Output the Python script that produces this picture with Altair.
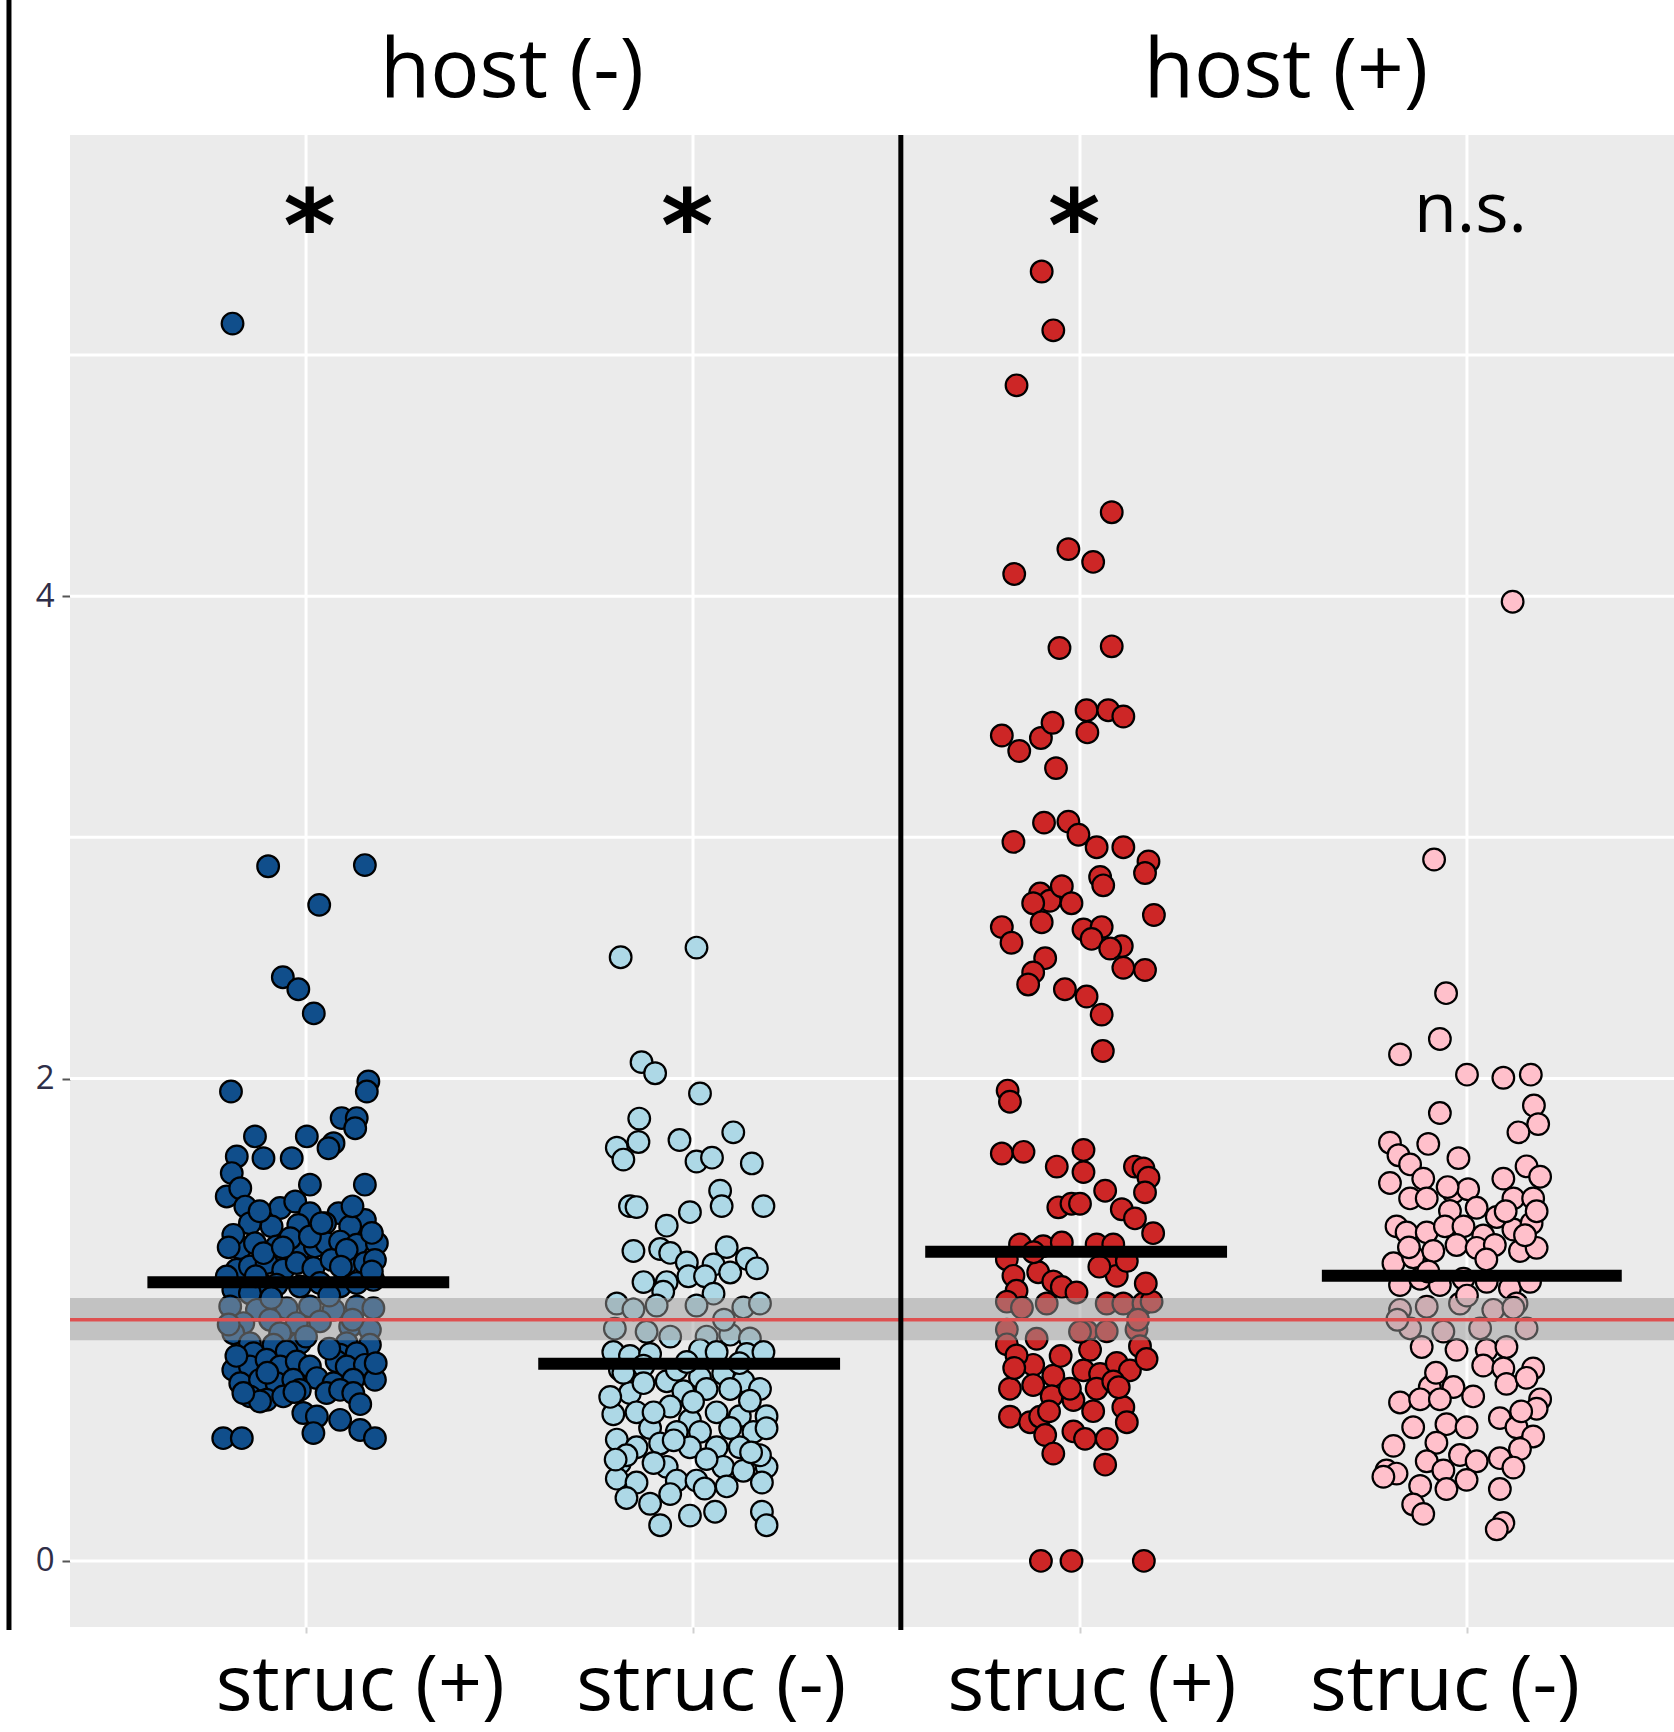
import altair as alt
import pandas as pd

# ---------------- data ----------------
categories = ["struc (+)", "struc (-)", "struc (+)", "struc (-)"]
cat_pos = [1, 2, 3, 4]
hosts = ["host (-)", "host (+)"]
host_pos = [1.532, 3.532]
label_pos = [1.14, 2.047, 3.031, 3.943]
groups = ["g1", "g2", "g3", "g4"]
group_colors = ["#104E8B", "#ADD8E6", "#CD2626", "#FFC0CB"]

# group 1: host(-) struc(+)  (jitter offset, value)
g1_off = [-0.19, -0.098, 0.152, 0.034, -0.06, -0.02, 0.02,
          -0.194, 0.161, 0.157, 0.092, 0.131, 0.127, -0.132, 0.002, 0.071, 0.058, -0.179, -0.11, -0.037,
          -0.192, 0.01, 0.152, -0.205, -0.17, -0.157, -0.067, -0.028, 0.01, 0.084, 0.152, -0.145, -0.089,
          -0.02, 0.049, 0.114, -0.17, -0.132, -0.076, -0.05, -0.016, 0.023, 0.053, 0.088, 0.131, 0.183,
          -0.179, -0.205, -0.145, -0.102, -0.059, -0.024, 0.019, 0.066, 0.105, 0.152, 0.178, -0.119,
          -0.076, -0.016, 0.036, 0.088, 0.131, 0.174, -0.188, -0.145, -0.196, -0.127, -0.05, 0.01, 0.071,
          0.131, 0.174, -0.162, -0.093, -0.024, 0.036, 0.114, 0.165, -0.188, -0.067, -0.145, -0.084,
          -0.016, 0.105, 0.165, -0.136, -0.05, 0.088, 0.131, -0.188, -0.145, -0.102, -0.067, -0.024, 0.01,
          0.079, 0.105, 0.152, -0.17, -0.119, -0.076, -0.033, 0.028, 0.071, 0.122, 0.178, -0.145, -0.102,
          -0.059, -0.016, 0.053, 0.088, 0.122, -0.007, 0.028, 0.088, 0.14, 0.019, 0.178, -0.214, -0.166,
          -0.119, -0.162, -0.041, 0.01, -0.188, 0.105, -0.11,
          -0.2, 0.17, -0.13, 0.06, -0.09, 0.12, -0.2, 0.0, 0.06, -0.1, 0.18, -0.03, 0.14, -0.18, 0.09,
          -0.06, 0.04, -0.12, 0.12, 0.17]
g1_val = [5.13, 2.88, 2.885, 2.72, 2.42, 2.37, 2.27,
          1.946, 1.988, 1.946, 1.836, 1.836, 1.794, 1.76, 1.76, 1.732, 1.711, 1.677, 1.67, 1.67,
          1.608, 1.56, 1.56, 1.511, 1.545, 1.469, 1.463, 1.49, 1.442, 1.442, 1.414, 1.4, 1.387,
          1.393, 1.4, 1.387, 1.297, 1.317, 1.304, 1.262, 1.29, 1.304, 1.317, 1.324, 1.311, 1.317,
          1.207, 1.179, 1.221, 1.235, 1.207, 1.235, 1.214, 1.248, 1.235, 1.235, 1.248, 1.152,
          1.145, 1.138, 1.152, 1.138, 1.152, 1.165, 1.124, 1.11, 1.055, 1.041, 1.048, 1.055, 1.041,
          1.055, 1.048, 0.986, 1.0, 0.986, 0.993, 0.972, 0.958, 0.944, 0.944, 0.903, 0.896,
          0.903, 0.903, 0.896, 0.861, 0.868, 0.855, 0.861, 0.792, 0.806, 0.834, 0.806, 0.827, 0.806,
          0.827, 0.806, 0.813, 0.737, 0.751, 0.737, 0.751, 0.758, 0.737, 0.751, 0.751, 0.682, 0.668,
          0.682, 0.709, 0.696, 0.709, 0.696, 0.613, 0.599, 0.585, 0.543, 0.53, 0.509, 0.509, 0.509,
          0.661, 0.696, 1.338, 1.345, 1.352, 1.29, 1.276,
          1.3, 1.2, 1.18, 1.1, 1.09, 1.0, 0.98, 0.93, 0.88, 0.78, 0.82, 0.7, 0.65, 0.85, 1.22,
          1.3, 1.4, 1.45, 1.47, 1.36]

# group 2: host(-) struc(-)
g2_off = [-0.187, 0.009, -0.133, -0.098, 0.018, -0.139, -0.197, -0.141, -0.18, -0.035, 0.104, 0.009,
          0.049, 0.152, 0.07, 0.074, -0.163, -0.146, -0.008, 0.182, -0.068, -0.154, -0.085, -0.059,
          -0.016, 0.087, 0.139, 0.165, 0.053, 0.096, -0.128, -0.068, -0.012, 0.031, -0.077, 0.053,
          -0.197, -0.154, -0.094, 0.009, 0.13, 0.173, -0.202, -0.059, 0.035, 0.096, 0.147, -0.206,
          -0.163, -0.111, 0.018, 0.061, 0.139, 0.182, -0.189, -0.128, -0.068, 0.018, 0.078, 0.13,
          0.173, -0.163, -0.128, -0.025, 0.035, 0.096, -0.206, -0.146, -0.059, -0.008, 0.061, 0.121,
          0.19, -0.111, -0.042, 0.018, 0.156, -0.197, -0.146, -0.085, -0.008, 0.061, 0.121, -0.189,
          -0.068, 0.078, 0.19, -0.197, -0.146, -0.042, 0.009, 0.087, 0.178, -0.172, -0.111, -0.008,
          0.057, 0.178, -0.085, 0.19, -0.102, 0.096, 0.147, -0.214, -0.042, -0.016, -0.102, 0.13,
          0.035, -0.059, -0.172, 0.173,
          -0.18, 0.0, 0.12, -0.05, 0.15, -0.12, 0.08, 0.19, -0.2, 0.03]
g2_val = [2.503, 2.543, 2.068, 2.022, 1.938, 1.834, 1.713, 1.737, 1.664, 1.745, 1.777, 1.656,
          1.672, 1.648, 1.535, 1.471, 1.471, 1.467, 1.446, 1.471, 1.39, 1.285, 1.293, 1.277,
          1.237, 1.301, 1.253, 1.213, 1.229, 1.196, 1.156, 1.156, 1.18, 1.18, 1.116, 1.108,
          1.067, 1.043, 1.059, 1.059, 1.051, 1.067, 0.963, 0.93, 0.93, 0.938, 0.922, 0.866,
          0.85, 0.858, 0.874, 0.866, 0.858, 0.866, 0.793, 0.809, 0.745, 0.761, 0.777, 0.745,
          0.713, 0.696, 0.737, 0.704, 0.713, 0.713, 0.608, 0.616, 0.64, 0.583, 0.616, 0.6,
          0.6, 0.551, 0.535, 0.535, 0.535, 0.503, 0.471, 0.487, 0.471, 0.471, 0.471, 0.406,
          0.39, 0.39, 0.39, 0.341, 0.325, 0.333, 0.333, 0.309, 0.325, 0.261, 0.237, 0.188,
          0.204, 0.204, 0.148, 0.148, 0.616, 0.551, 0.664, 0.68, 0.793, 0.825, 0.406, 0.374,
          0.422, 0.277, 0.438, 0.438,
          0.78, 0.66, 0.82, 0.5, 0.45, 0.95, 1.0, 0.55, 0.42, 0.3]

# group 3: host(+) struc(+)
g3_off = [-0.099, -0.069, -0.164, 0.082, -0.03, 0.034, -0.17, -0.053, 0.082, 0.017, 0.073, 0.112,
          -0.202, -0.157, -0.101, -0.071, 0.019, -0.062, -0.093, -0.03, -0.004, -0.172, 0.043, 0.112,
          0.177, 0.168, 0.052, 0.06, -0.103, -0.078, -0.047, -0.022, -0.121, -0.099, 0.191, -0.202,
          -0.177, 0.009, 0.056, 0.03, 0.108, 0.078, -0.09, -0.121, -0.134, 0.112, 0.168, -0.039,
          0.017, 0.056, 0.059, -0.187, -0.181, -0.202, -0.146, 0.009, -0.06, 0.009, 0.142, 0.164,
          0.177, 0.065, 0.168, -0.056, -0.022, 0.0, 0.108, 0.142, 0.189, -0.155, -0.095, -0.047,
          0.043, 0.086, -0.189, -0.108, 0.069, 0.095, 0.121, -0.172, -0.069, -0.164, -0.047, -0.009,
          -0.189, -0.086, 0.069, 0.112, 0.164, 0.185, -0.189, -0.112, 0.017, 0.069, 0.146, -0.189,
          0.026, 0.155, -0.121, -0.069, 0.009, 0.052, 0.095, 0.129, 0.172, -0.181, -0.121, -0.073,
          -0.017, 0.043, 0.086, -0.181, -0.129, -0.103, 0.034, 0.112, 0.121, -0.09, -0.017, 0.013,
          0.069, -0.069, 0.065, -0.101, -0.022, 0.165, -0.164, -0.026,
          -0.15, 0.0, 0.15, -0.05, 0.1, -0.17, 0.05, -0.12, 0.17, -0.08]
g3_val = [5.346, 5.102, 4.874, 4.348, 4.195, 4.142, 4.092, 3.785, 3.792, 3.527, 3.527, 3.501,
          3.422, 3.358, 3.412, 3.475, 3.435, 3.287, 3.061, 3.065, 3.011, 2.981, 2.959, 2.959,
          2.9, 2.852, 2.836, 2.801, 2.767, 2.737, 2.797, 2.727, 2.727, 2.648, 2.678, 2.628,
          2.563, 2.618, 2.628, 2.579, 2.549, 2.539, 2.499, 2.44, 2.39, 2.459, 2.45, 2.37,
          2.34, 2.265, 2.114, 1.95, 1.904, 1.689, 1.696, 1.704, 1.635, 1.612, 1.635, 1.627,
          1.589, 1.535, 1.528, 1.466, 1.481, 1.481, 1.458, 1.42, 1.359, 1.312, 1.305, 1.32,
          1.312, 1.312, 1.251, 1.197, 1.236, 1.182, 1.243, 1.182, 1.159, 1.12, 1.136, 1.113,
          1.075, 1.067, 1.067, 1.067, 1.067, 1.075, 0.959, 0.921, 0.952, 0.952, 0.959, 0.898,
          0.875, 0.89, 0.813, 0.768, 0.79, 0.775, 0.821, 0.79, 0.837, 0.714, 0.729, 0.683,
          0.667, 0.714, 0.744, 0.598, 0.575, 0.598, 0.621, 0.637, 0.575, 0.522, 0.537, 0.506,
          0.506, 0.445, 0.399, 0.0, 0.0, 0.0, 0.852, 0.714,
          1.05, 0.95, 1.0, 0.85, 0.72, 0.8, 1.22, 1.28, 1.15, 0.62]

# group 4: host(+) struc(-)
g4_off = [0.118, -0.085, -0.054, -0.07, -0.173, 0.0, 0.094, 0.165, 0.173, 0.184, 0.133, -0.07,
          -0.199, -0.177, -0.1, -0.022, -0.147, -0.199, -0.113, 0.094, 0.154, 0.189, -0.147, -0.035,
          0.003, -0.104, 0.12, 0.171, -0.044, 0.025, 0.077, -0.182, -0.156, -0.104, -0.057, -0.009,
          0.042, 0.12, 0.167, -0.19, -0.139, -0.087, -0.027, 0.025, 0.072, 0.137, 0.18, -0.173,
          -0.121, -0.07, -0.009, 0.051, 0.111, 0.163, -0.173, -0.104, -0.018, 0.068, 0.128, -0.147,
          -0.061, 0.034, 0.154, -0.117, -0.027, 0.051, 0.102, 0.042, 0.094, 0.171, 0.102, 0.154,
          -0.096, -0.035, -0.173, -0.121, -0.07, 0.016, 0.189, 0.18, -0.139, -0.053, -0.001, 0.085,
          0.128, -0.19, -0.079, -0.018, 0.171, 0.137, -0.104, 0.025, 0.085, -0.208, -0.182, -0.061,
          0.12, -0.121, -0.053, -0.001, 0.085, -0.139, -0.113, 0.094, 0.077, -0.216,
          -0.1, 0.05, 0.15, -0.15, 0.1, -0.05, 0.18, 0.0, -0.18, 0.12, -0.08, 0.14]
g4_val = [3.977, 2.908, 2.354, 2.164, 2.1, 2.016, 2.003, 2.016, 1.888, 1.811, 1.777, 1.857,
          1.734, 1.682, 1.729, 1.67, 1.644, 1.567, 1.585, 1.585, 1.636, 1.593, 1.503, 1.528,
          1.541, 1.503, 1.503, 1.503, 1.451, 1.464, 1.426, 1.387, 1.362, 1.362, 1.387, 1.387,
          1.349, 1.374, 1.4, 1.234, 1.259, 1.285, 1.31, 1.298, 1.31, 1.285, 1.298, 1.144,
          1.17, 1.144, 1.17, 1.157, 1.131, 1.157, 1.041, 1.054, 1.067, 1.041, 1.067, 0.964,
          0.951, 0.964, 0.964, 0.887, 0.875, 0.875, 0.887, 0.81, 0.798, 0.798, 0.734, 0.759,
          0.721, 0.721, 0.657, 0.67, 0.67, 0.682, 0.67, 0.631, 0.554, 0.567, 0.554, 0.592,
          0.554, 0.477, 0.49, 0.439, 0.516, 0.464, 0.413, 0.413, 0.426, 0.375, 0.362, 0.375,
          0.387, 0.311, 0.298, 0.336, 0.298, 0.234, 0.195, 0.157, 0.131, 0.349,
          1.2, 1.25, 1.35, 1.3, 1.45, 1.55, 1.45, 1.1, 1.0, 1.05, 0.78, 0.62]

mean_values = [1.155, 0.817, 1.282, 1.182]
mean_start = [-0.41, -0.40, -0.40, -0.375]
mean_end = [0.37, 0.38, 0.38, 0.40]

sig_labels = ["*", "*", "*", "n.s."]
sig_pos = [1.009, 1.985, 2.985, 4.009]
ref_value = [1.0]
band_low = [0.915]
band_high = [1.09]
grid_y = [0, 1, 2, 3, 4, 5]
y_ticks = [0, 2, 4]
panel_divider = [2.537]
outer_line = [0.2323]

# ---------------- tables ----------------
rows = []
for g, pos, offs, vals in zip(groups, cat_pos, [g1_off, g2_off, g3_off, g4_off],
                              [g1_val, g2_val, g3_val, g4_val]):
    for o, v in zip(offs, vals):
        rows.append({"group": g, "x": pos + o, "y": v})
points = pd.DataFrame(rows)

means = pd.DataFrame({
    "x1": [p + s for p, s in zip(cat_pos, mean_start)],
    "x2": [p + e for p, e in zip(cat_pos, mean_end)],
    "y": mean_values,
})
sig = pd.DataFrame({"x": sig_pos, "label": sig_labels,
                    "bold": [l == "*" for l in sig_labels]})
xlabels = pd.DataFrame({"x": label_pos, "label": categories})
htitles = pd.DataFrame({"x": host_pos, "label": hosts})

W, H = 1604, 1492
xs = alt.Scale(domain=[0.39, 4.535], nice=False, zero=False)
ys = alt.Scale(domain=[-0.274, 5.912], nice=False, zero=False)
xaxis = alt.Axis(values=cat_pos, labels=False, ticks=True, tickSize=6, tickColor="#d0d0d0",
                 tickWidth=2, domain=False, grid=False, title=None)
yaxis = alt.Axis(values=y_ticks, format="d", labelFont="Open Sans", labelFontSize=33,
                 labelColor="#2e2e48", tickColor="#555555", tickSize=8, tickWidth=2,
                 domain=False, grid=False, labelPadding=8, title=None)


def X(field, **kw):
    return alt.X(field, type="quantitative", scale=xs, axis=xaxis, **kw)


def Y(field, **kw):
    return alt.Y(field, type="quantitative", scale=ys, axis=yaxis, **kw)


gridh = alt.Chart(pd.DataFrame({"y": grid_y})).mark_rule(color="white", strokeWidth=3).encode(
    y=Y("y"), x=alt.value(0), x2=alt.value(W))
gridv = alt.Chart(pd.DataFrame({"x": cat_pos})).mark_rule(color="white", strokeWidth=3).encode(
    x=X("x"), y=alt.value(0), y2=alt.value(H))

pts = alt.Chart(points).mark_circle(size=470, opacity=1, stroke="black", strokeWidth=2.2).encode(
    x=X("x"), y=Y("y"),
    fill=alt.Fill("group:N", scale=alt.Scale(domain=groups, range=group_colors), legend=None),
)

band = alt.Chart(pd.DataFrame({"lo": band_low, "hi": band_high})).mark_rect(
    color="#9a9a9a", opacity=0.5).encode(
    y=Y("lo"), y2="hi", x=alt.value(0), x2=alt.value(W))
refline = alt.Chart(pd.DataFrame({"y": ref_value})).mark_rule(color="#de5050", strokeWidth=3.5).encode(
    y=Y("y"), x=alt.value(0), x2=alt.value(W))

meanbars = alt.Chart(means).mark_rule(color="black", strokeWidth=12, strokeCap="butt").encode(
    x=X("x1"), x2="x2", y=Y("y"))

divider = alt.Chart(pd.DataFrame({"x": panel_divider})).mark_rule(color="black", strokeWidth=5).encode(
    x=X("x"), y=alt.value(0), y2=alt.value(H + 3))
outer = alt.Chart(pd.DataFrame({"x": outer_line})).mark_rule(color="black", strokeWidth=5).encode(
    x=X("x"), y=alt.value(-135), y2=alt.value(H + 3))

stars = alt.Chart(sig[sig["bold"]]).mark_text(
    font="DejaVu Sans", fontWeight="bold", fontSize=100, align="center", baseline="alphabetic",
    color="black").encode(x=X("x"), y=alt.value(126), text="label:N")
ns = alt.Chart(sig[~sig["bold"]]).mark_text(
    font="Open Sans", fontSize=70, align="center", baseline="alphabetic", color="black").encode(
    x=X("x"), y=alt.value(97), text="label:N")

xlab = alt.Chart(xlabels).mark_text(
    font="Open Sans", fontSize=77, align="center", baseline="alphabetic", color="black").encode(
    x=X("x"), y=alt.value(1575), text="label:N")
htit = alt.Chart(htitles).mark_text(
    font="Open Sans", fontSize=82, align="center", baseline="alphabetic", color="black").encode(
    x=X("x"), y=alt.value(-38), text="label:N")

chart = alt.layer(gridh, gridv, pts, band, refline, meanbars, divider, outer, stars, ns, xlab, htit).properties(
    width=W, height=H,
    autosize=alt.AutoSizeParams(type="none"),
    padding={"left": 70, "top": 135, "right": 0, "bottom": 105},
    background="white",
).configure_view(fill="#EBEBEB", stroke=None)

chart.save("out.html", embed_options={"renderer": "svg", "actions": False})
